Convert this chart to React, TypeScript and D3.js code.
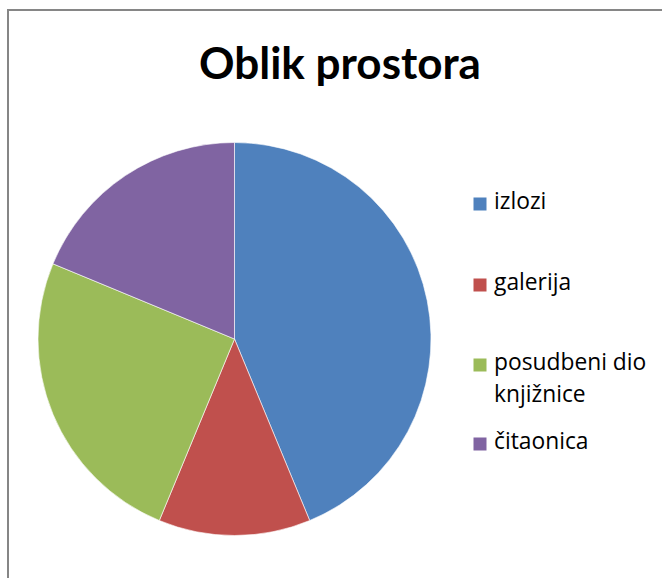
import React, { useEffect, useRef } from 'react';
import * as d3 from 'd3';

// Oblik prostora - pie chart
const categories = ['izlozi', 'galerija', 'posudbeni dio knjižnice', 'čitaonica'];
const legendLines = [['izlozi'], ['galerija'], ['posudbeni dio', 'knjižnice'], ['čitaonica']];
const values = [7, 2, 4, 3];
const colors = ['#4F81BD', '#C0504D', '#9BBB59', '#8064A2'];

const W = 662;
const H = 578;

const App = () => {
  const ref = useRef<SVGSVGElement | null>(null);

  useEffect(() => {
    const svg = d3.select(ref.current);
    svg.selectAll('*').remove();

    const font = 'Lato, "Open Sans", sans-serif';

    // chart area border (cut off at right and bottom)
    svg.append('rect')
      .attr('x', 8)
      .attr('y', 10)
      .attr('width', W + 20)
      .attr('height', H + 20)
      .attr('fill', '#fff')
      .attr('stroke', '#868686')
      .attr('stroke-width', 2);

    svg.append('text')
      .attr('x', 340)
      .attr('y', 79)
      .attr('text-anchor', 'middle')
      .style('font-family', font)
      .style('font-size', '44px')
      .style('font-weight', 'bold')
      .attr('fill', '#000')
      .text('Oblik prostora');

    const cx = 234.5;
    const cy = 339;
    const r = 196.5;

    const pie = d3.pie<number>().sort(null).value((d) => d);
    const arc = d3.arc<d3.PieArcDatum<number>>().innerRadius(0).outerRadius(r);
    const color = d3.scaleOrdinal<number, string>().domain(d3.range(values.length)).range(colors);

    const g = svg.append('g').attr('transform', `translate(${cx},${cy})`);
    g.selectAll('path')
      .data(pie(values))
      .enter()
      .append('path')
      .attr('d', arc)
      .attr('fill', (d, i) => color(i))
      .attr('stroke', '#fff')
      .attr('stroke-width', 0.6);

    // legend
    const baselines = [209, 290, 370, 449];
    const leg = svg.append('g');
    categories.forEach((c, i) => {
      const y = baselines[i];
      leg.append('rect')
        .attr('x', 473.5)
        .attr('y', y - 11.5)
        .attr('width', 13)
        .attr('height', 13)
        .attr('fill', color(i));
      legendLines[i].forEach((line, j) => {
        leg.append('text')
          .attr('x', 494)
          .attr('y', y + j * 32)
          .style('font-family', '"Open Sans", sans-serif')
          .style('font-size', '22.8px')
          .attr('fill', '#000')
          .text(line);
      });
    });
  }, []);

  return (
    <svg
      ref={ref}
      width={W}
      height={H}
      style={{ position: 'absolute', left: 0, top: 0, background: '#fff' }}
    />
  );
};

export default App;
